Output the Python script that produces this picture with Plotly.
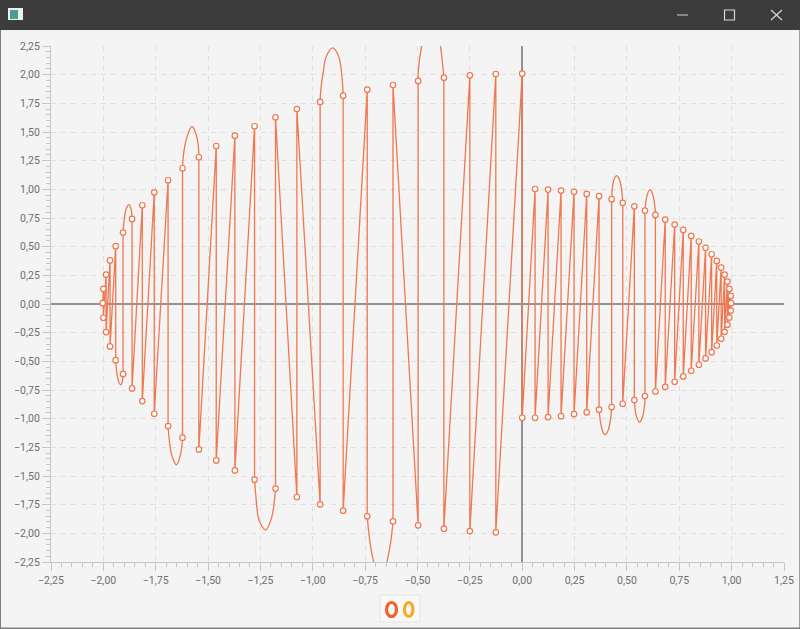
import plotly.graph_objects as go

# Values. Left lobe: index 0 is x=0, upper and lower rim.
left_x = [0, -.126, -.25, -.374, -.497, -.617, -.74, -.855, -.965, -1.076, -1.178, -1.278, -1.372,
          -1.461, -1.544, -1.622, -1.691, -1.757, -1.814, -1.863, -1.906, -1.941, -1.968, -1.987, -2.0]
left_upper = [2.009, 2.006, 1.994, 1.974, 1.945, 1.91, 1.869, 1.817, 1.762, 1.70, 1.628, 1.55, 1.468,
              1.378, 1.28, 1.184, 1.079, .974, .861, .742, .623, .504, .38, .257, .132]
left_lower = [-.992, -1.991, -1.98, -1.959, -1.93, -1.895, -1.852, -1.802, -1.747, -1.683, -1.61, -1.532, -1.451,
              -1.364, -1.268, -1.166, -1.065, -.957, -.847, -.736, -.61, -.49, -.37, -.245, -.12]
left_tip = (-2.003, .007)
# Right lobe
right_x = [0, .0615, .1235, .1855, .2475, .308, .367, .427, .48, .5355, .586, .636, .683, .728, .769,
           .807, .8435, .8755, .9045, .929, .95, .9665, .98, .989, .996, .997]
right_upper = [None, 1.003, .998, .989, .978, .96, .94, .914, .882, .852, .815, .777, .736, .693, .646,
               .594, .545, .49, .434, .376, .318, .257, .196, .132, .071, .007]
right_lower = [-.992, -.992, -.986, -.978, -.96, -.945, -.922, -.899, -.87, -.838, -.803, -.763, -.722,
               -.678, -.632, -.582, -.53, -.475, -.42, -.362, -.303, -.243, -.18, -.118, -.057]
# The order the curve visits the points in (U upper, L lower)
right_order = ("U25 L24 U24 L23 U23 L22 U22 L21 U21 L20 U20 L19 U19 L18 U18 L17 U17 L16 U16 L15 U15 L14 U14 L13 U13 "
               "L12 U12 L11 U11 U10 L10 L9 U9 L8 U8 U7 L7 L6 U6 L5 U5 L4 U4 L3 U3 L2 U2 L1 U1 L0").split()
left_order = ("U0 L1 U1 L2 U2 L3 U3 U4 L4 U5 L5 L6 U6 L7 U7 U8 L8 U9 L9 U10 L10 L11 U11 L12 U12 L13 U13 L14 U14 "
              "U15 L15 L16 U16 L17 U17 L18 U18 L19 U19 U20 L20 L21 U21 L22 U22 L23 U23 L24 U24").split()

arc_top_a_x = [-1.906, -1.900, -1.891, -1.878, -1.868, -1.863]
arc_top_a_y = [.623, .743, .83, .867, .83, .742]
arc_top_b_x = [-1.622, -1.617, -1.601, -1.577, -1.557, -1.546, -1.544]
arc_top_b_y = [1.184, 1.31, 1.454, 1.548, 1.478, 1.367, 1.28]
arc_top_c_x = [-.965, -.962, -.949, -.937, -.906, -.878, -.862, -.855]
arc_top_c_y = [1.762, 1.861, 2.036, 2.152, 2.234, 2.167, 2.007, 1.817]
arc_top_d_x = [-.497, -.496, -.48, -.459, -.436, -.412, -.391, -.381, -.374]
arc_top_d_y = [1.945, 2.036, 2.254, 2.402, 2.472, 2.402, 2.254, 2.105, 1.974]
arc_top_e_x = [.427, .431, .439, .45, .463, .474, .48]
arc_top_e_y = [.914, 1.018, 1.091, 1.12, 1.091, 1.004, .882]
arc_top_f_x = [.586, .594, .601, .611, .622, .633, .636]
arc_top_f_y = [.815, .931, .975, .998, .961, .859, .777]
arc_low_a_x = [-1.941, -1.935, -1.926, -1.916, -1.91, -1.906]
arc_low_a_y = [-.49, -.609, -.682, -.704, -.682, -.61]
arc_low_b_x = [-1.691, -1.686, -1.673, -1.651, -1.633, -1.624, -1.622]
arc_low_b_y = [-1.065, -1.175, -1.321, -1.402, -1.321, -1.219, -1.166]
arc_low_c_x = [-1.278, -1.272, -1.256, -1.224, -1.196, -1.183, -1.178]
arc_low_c_y = [-1.532, -1.67, -1.888, -1.969, -1.859, -1.713, -1.61]
arc_low_d_x = [-.74, -.727, -.708, -.676, -.647, -.628, -.617]
arc_low_d_y = [-1.852, -2.077, -2.256, -2.428, -2.256, -2.077, -1.895]
arc_low_e_x = [.367, .374, .384, .396, .41, .422, .427]
arc_low_e_y = [-.922, -1.031, -1.109, -1.14, -1.103, -1.001, -.899]
arc_low_f_x = [.5355, .541, .549, .56, .574, .585, .586]
arc_low_f_y = [-.838, -.943, -1.001, -1.03, -.987, -.87, -.803]
arcs = [(arc_top_a_x, arc_top_a_y), (arc_top_b_x, arc_top_b_y), (arc_top_c_x, arc_top_c_y),
        (arc_top_d_x, arc_top_d_y), (arc_top_e_x, arc_top_e_y), (arc_top_f_x, arc_top_f_y),
        (arc_low_a_x, arc_low_a_y), (arc_low_b_x, arc_low_b_y), (arc_low_c_x, arc_low_c_y),
        (arc_low_d_x, arc_low_d_y), (arc_low_e_x, arc_low_e_y), (arc_low_f_x, arc_low_f_y)]

path_x, path_y, point_x, point_y = [], [], [], []
prev = None
for xs, up, low, order in ((right_x, right_upper, right_lower, right_order),
                           (left_x, left_upper, left_lower, left_order)):
    for tag in order:
        i = int(tag[1:])
        y = up[i] if tag[0] == "U" else low[i]
        if prev == tag[0] and not (tag == "U0"):
            path_x.append(None)
            path_y.append(None)
        path_x.append(xs[i])
        path_y.append(y)
        point_x.append(xs[i])
        point_y.append(y)
        prev = tag[0]
path_x.append(left_tip[0])
path_y.append(left_tip[1])
point_x.append(left_tip[0])
point_y.append(left_tip[1])

arc_x, arc_y = [], []
for ax_, ay_ in arcs:
    arc_x += ax_ + [None]
    arc_y += ay_ + [None]

LINE = "#ef7850"
AX = "#c6c6c6"
GRID = "#dfdfdf"
L, R, T, B = 51, 16, 46, 67
PW, PH = 800 - L - R, 629 - T - B
fx = lambda p: (p - L) / PW
fy = lambda p: (629 - B - p) / PH


def rect(x0, y0, x1, y1, fill, line=None, w=1, kind="rect"):
    return dict(type=kind, xref="paper", yref="paper", x0=fx(x0), x1=fx(x1), y0=fy(y0), y1=fy(y1),
                fillcolor=fill, line=dict(color=line or fill, width=w if line else 0), layer="above")


def seg(x0, y0, x1, y1, color, w=1.2):
    return dict(type="line", xref="paper", yref="paper", x0=fx(x0), x1=fx(x1), y0=fy(y0), y1=fy(y1),
                line=dict(color=color, width=w), layer="above")


chrome = [
    rect(0, 0, 800, 30, "#3c3c3c"),
    rect(8, 8, 23, 20, "#e8f2f0"), rect(10, 10, 18, 19, "#4f9c94"),
    seg(677, 15, 688, 15, "#b8b8b8"),
    rect(724.5, 10, 734.5, 20, "rgba(0,0,0,0)", "#d8d8d8", 1.2),
    seg(771, 10, 782, 20, "#d8d8d8"), seg(771, 20, 782, 10, "#d8d8d8"),
    rect(0, 30, 1, 629, "#808080"), rect(799, 30, 800, 629, "#a0a0a0"), rect(0, 627.5, 800, 629, "#808080"),
    rect(380, 595, 420, 622, "#f8f8f8", "#e6e6e6", 1),
    rect(386.5, 602.5, 396.5, 616.5, "rgba(0,0,0,0)", "#f3622d", 3.2, "circle"),
    rect(404.5, 602.5, 413, 616.5, "rgba(0,0,0,0)", "#fba71b", 3, "circle"),
]

fig = go.Figure()
fig.add_trace(go.Scatter(x=path_x, y=path_y, mode="lines", line=dict(color=LINE, width=1.3), hoverinfo="skip"))
fig.add_trace(go.Scatter(x=arc_x, y=arc_y, mode="lines", line=dict(color=LINE, width=1.3, shape="spline", smoothing=1.0),
                         hoverinfo="skip"))
fig.add_trace(go.Scatter(x=point_x, y=point_y, mode="markers", name="0",
                         marker=dict(symbol="circle", size=5.5, color="#ffffff", line=dict(color=LINE, width=1.2))))

common = dict(
    automargin=False,
    dtick=.25, tick0=0, tickformat=".2f", ticks="outside", ticklen=8, tickcolor=AX, tickwidth=1,
    showline=True, linecolor=AX, linewidth=1, showgrid=True, gridcolor=GRID, griddash="5px,5px", gridwidth=1,
    zeroline=True, zerolinecolor="#939393", zerolinewidth=1.5,
    minor=dict(dtick=.05, ticks="outside", ticklen=4, tickcolor=AX, tickwidth=1, showgrid=False),
    tickfont=dict(family="Roboto", size=10.5, color="#6e6e6e"),
)
fig.update_layout(
    width=800, height=629, margin=dict(l=L, r=R, t=T, b=B, pad=0), autosize=False,
    paper_bgcolor="#f4f4f4", plot_bgcolor="#f4f4f4", separators=", ", showlegend=False,
    xaxis=dict(range=[-2.25, 1.25], **common),
    yaxis=dict(range=[-2.25, 2.25], **common),
    shapes=chrome,
)
fig.write_html("out.html", config=dict(displayModeBar=False),
               post_script="document.body.style.margin='0';")
